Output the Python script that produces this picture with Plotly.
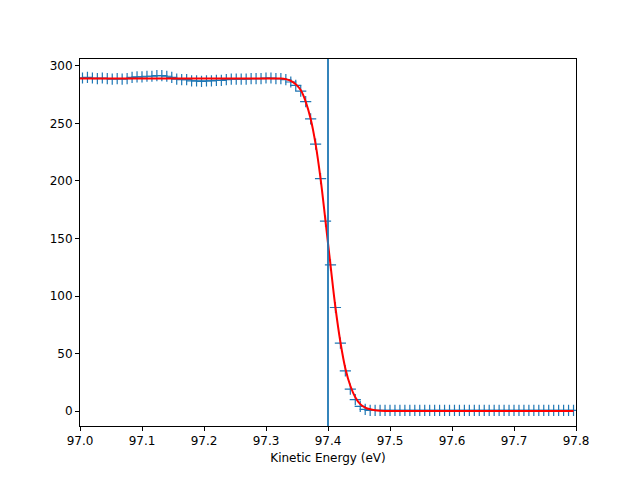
import numpy as np
import plotly.graph_objects as go

# kinetic energy grid (eV), 101 points, step 0.008
energy = np.round(np.linspace(96.996, 97.796, 101), 3)

counts = [289.5, 289.5, 290, 289.5, 289, 289.5, 289, 288.5, 289, 288.5,
          289, 290, 290.5, 290.5, 291, 291, 291.5, 291.5, 291, 290,
          288.5, 288, 288, 287, 287, 286.5, 287, 287, 287.5, 287.5,
          288, 288.5, 288.5, 288.5, 288.5, 289, 289, 289, 289.5, 289.5,
          289, 289, 288, 286, 283, 278, 269, 254, 232, 202,
          165, 127, 90, 59, 35, 19, 10, 4, 1.5, 0.5,
          0.5, 0.5, 0.5, 0.5, 0.5, 0.5, 0.5, 0.5, 0.5, 0.5,
          0.5, 0.5, 0.5, 0.5, 0.5, 0.5, 0.5, 0.5, 0.5, 0.5,
          0.5, 0.5, 0.5, 0.5, 0.5, 0.5, 0.5, 0.5, 0.5, 0.5,
          0.5, 0.5, 0.5, 0.5, 0.5, 0.5, 0.5, 0.5, 0.5, 0.5, 0.5]

fit = [289] * 41 + [289, 288.5, 287, 284, 279, 269, 254, 232, 202, 165,
                    127, 90, 60, 37, 22, 12, 6, 3, 1.5, 0.7,
                    0.3, 0.1] + [0] * 38

fermi_edge = 97.4

fig = go.Figure()
fig.add_trace(go.Scatter(x=energy, y=counts, mode='markers',
                         marker=dict(symbol='cross-thin-open', size=8, color='#1f77b4',
                                     line=dict(width=1.2, color='#1f77b4')),
                         showlegend=False))
fig.add_trace(go.Scatter(x=energy, y=fit, mode='lines', line=dict(color='red', width=2, shape='spline'),
                         showlegend=False))
fig.add_vline(x=fermi_edge, line=dict(color='#1f77b4', width=1.8))

axis_style = dict(showgrid=False, zeroline=False, showline=True, linecolor='black', linewidth=1,
                  mirror=True, ticks='outside', ticklen=4, tickcolor='black',
                  tickfont=dict(family='DejaVu Sans', size=12, color='black'))
fig.update_layout(
    width=640, height=480,
    plot_bgcolor='white', paper_bgcolor='white',
    margin=dict(l=72, r=72, t=51, b=62),
    xaxis=dict(range=[97.0, 97.8], dtick=0.1, tickformat='.1f',
               title=dict(text='Kinetic Energy (eV)', font=dict(family='DejaVu Sans', size=12, color='black'),
                          standoff=6), **axis_style),
    yaxis=dict(range=[-13, 306], dtick=50, **axis_style),
)

fig.write_html("out.html")
